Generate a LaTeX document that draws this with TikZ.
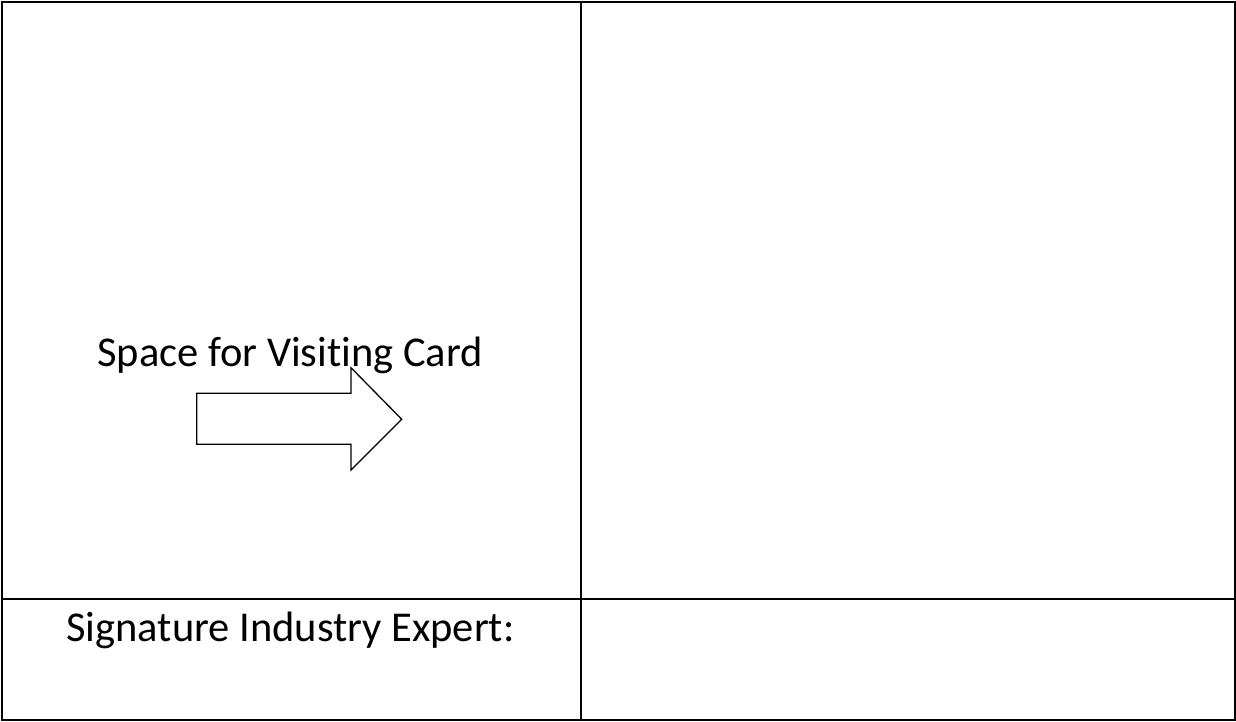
\documentclass[tikz,border=0pt]{standalone}
\usepackage{fontspec}
\setmainfont[Ligatures=NoCommon]{Carlito}
\begin{document}
\begin{tikzpicture}[x=1pt,y=-1pt,
  gridline/.style={line width=2pt,black},
  arrowshape/.style={line width=1.3pt,black,line join=miter,fill=white},
  label/.style={inner sep=0pt,anchor=base,font=\fontsize{42.5}{50}\selectfont}]
\useasboundingbox (0,0) rectangle (1236,721);
\fill[white] (0,0) rectangle (1236,721);
% arrow
\draw[arrowshape] (196.7,393.3) -- (351,393.3) -- (351,367.7) -- (401.7,419.3)
  -- (351,470) -- (351,444.3) -- (196.7,444.3) -- cycle;
% texts
\node[label] (card) at (290,366.7) {Space for Visiting Card};
\node[label] (sig) at (290.5,641.7) {Signature Industry Expert:};
% table
\draw[gridline] (1.5,1.5) rectangle (1234.5,719.5);
\draw[gridline] (581,1.5) -- (581,719.5);
\draw[gridline] (1.5,598.5) -- (1234.5,598.5);
\end{tikzpicture}
\end{document}
